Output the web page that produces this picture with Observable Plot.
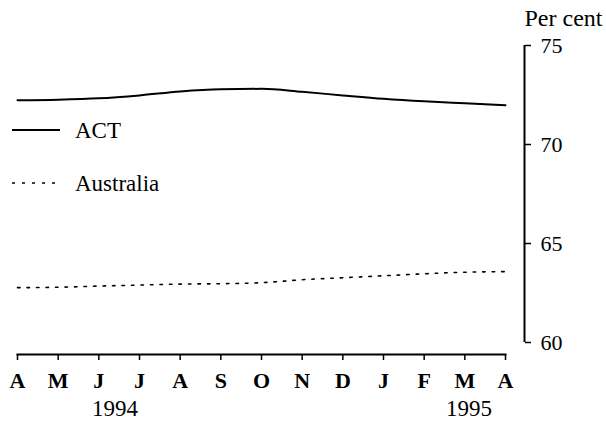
<!DOCTYPE html>
<html>
<head>
<meta charset="utf-8">
<script src="https://cdn.jsdelivr.net/npm/d3@7"></script>
<script src="https://cdn.jsdelivr.net/npm/@observablehq/plot@0.6"></script>
<style>
html, body { margin: 0; padding: 0; background: #fff; overflow: hidden; }
#wrap { position: relative; width: 606px; height: 421px; font-family: "Liberation Serif", "Times New Roman", "DejaVu Serif", serif; color: #000; }
.item { position: absolute; left: 12px; display: flex; align-items: center; font-size: 23px; line-height: 1; }
.item svg { display: block; margin-right: 15px; }
</style>
</head>
<body>
<div id="wrap"></div>
<script>
// Month tick labels: April 1994 to April 1995
const months = ["A", "M", "J", "J", "A", "S", "O", "N", "D", "J", "F", "M", "A"];
// Per cent values
const act = [72.23, 72.26, 72.33, 72.48, 72.68, 72.79, 72.81, 72.66, 72.48, 72.31, 72.18, 72.08, 71.98];
const australia = [62.77, 62.79, 62.85, 62.90, 62.95, 62.97, 63.02, 63.17, 63.27, 63.37, 63.47, 63.55, 63.58];
const yTicks = [60, 65, 70, 75];
const yearLabels = ["1994", "1995"];
const seriesNames = ["ACT", "Australia"];

const idx = d3.range(months.length);
const actData = idx.map(i => ({ i, v: act[i] }));
const ausData = idx.map(i => ({ i, v: australia[i] }));
// year labels sit under the months of their year (June/July 1994, March 1995)
const yearData = [
  { i: (2 + 3) / 2 - 0.1, label: yearLabels[0] },
  { i: 11 + 0.1, label: yearLabels[1] }
];

const chart = Plot.plot({
  width: 606,
  height: 421,
  marginTop: 45,
  marginBottom: 67,
  marginLeft: 17,
  marginRight: 101,
  style: { fontFamily: '"Liberation Serif", "Times New Roman", "DejaVu Serif", serif', color: "#000", background: "#fff" },
  x: { type: "linear", domain: [0, months.length - 1] },
  y: { domain: [60, 75], range: [342, 45] },
  marks: [
    Plot.frame({ anchor: "bottom", stroke: "#000", strokeWidth: 2 }),
    Plot.axisX({ ticks: idx, tickFormat: i => months[i], tickSize: 6, tickPadding: 12, fontSize: 22, fontWeight: "bold", label: null, stroke: "#000", strokeWidth: 1.5 }),
    Plot.text(yearData, { x: "i", text: "label", frameAnchor: "bottom", dy: 54, fontSize: 23, lineAnchor: "middle" }),
    Plot.ruleX([months.length - 1], { y1: 60, y2: 75, dx: 19, stroke: "#000", strokeWidth: 2 }),
    Plot.axisY({ anchor: "right", ticks: yTicks, tickSize: 6, tickPadding: 10, dx: 19, fontSize: 22, label: null, stroke: "#000", strokeWidth: 1.5 }),
    Plot.text(["Per cent"], { frameAnchor: "top-right", dx: 19, dy: -27, textAnchor: "start", fontSize: 24, lineAnchor: "middle" }),
    Plot.line(actData, { x: "i", y: "v", stroke: "#000", strokeWidth: 2, curve: "monotone-x" }),
    Plot.line(ausData, { x: "i", y: "v", stroke: "#000", strokeWidth: 1.6, strokeDasharray: "2.5 7", curve: "monotone-x" })
  ]
});

const wrap = document.getElementById("wrap");
wrap.appendChild(chart);

// legend overlay
const legendItems = [
  { name: seriesNames[0], dash: null, top: 118 },
  { name: seriesNames[1], dash: "3 7", top: 171 }
];
for (const it of legendItems) {
  const div = document.createElement("div");
  div.className = "item";
  div.style.top = it.top + "px";
  div.innerHTML = `<svg width="48" height="24"><line x1="0" x2="48" y1="12" y2="12" stroke="#000" stroke-width="${it.dash ? 1.6 : 2}" ${it.dash ? `stroke-dasharray="${it.dash}"` : ""}/></svg><span>${it.name}</span>`;
  wrap.appendChild(div);
}
</script>
</body>
</html>
